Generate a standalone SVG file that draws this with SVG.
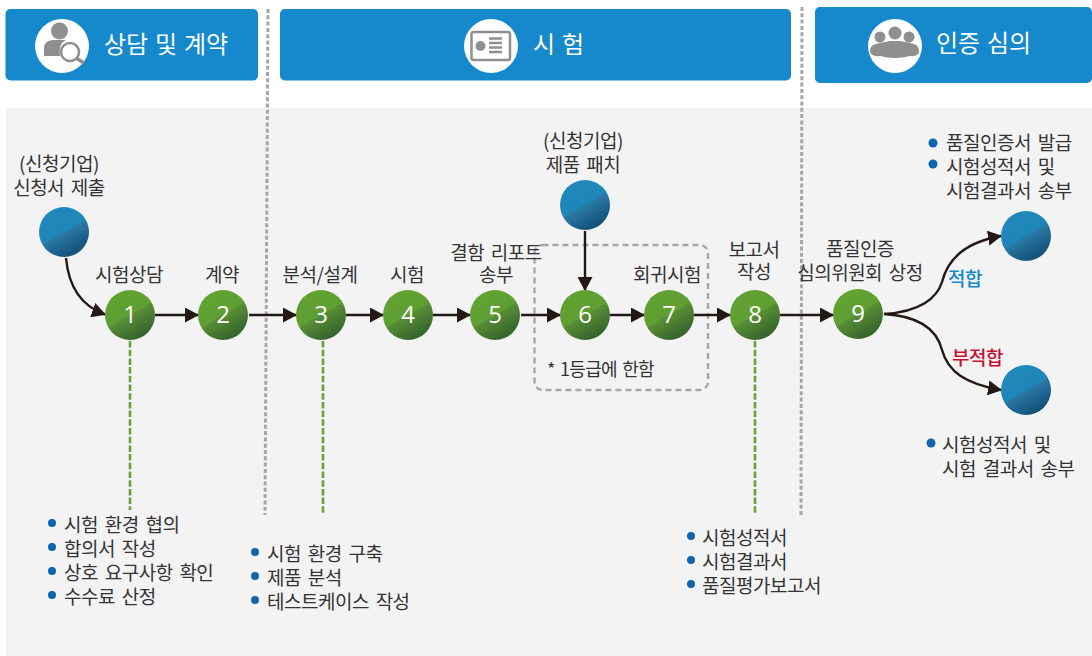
<svg xmlns="http://www.w3.org/2000/svg" width="1092" height="656" viewBox="0 0 1092 656">
<style>
text{font-family:"Noto Sans CJK KR","Noto Sans",sans-serif;fill:#333;font-size:19px;letter-spacing:-.5px;word-spacing:3px}
.m{text-anchor:middle}
.h{fill:#fff;font-size:24px;letter-spacing:0;word-spacing:1.500px}
.n{fill:#fff;font-size:24px;text-anchor:middle;font-family:"Open Sans","Noto Sans",sans-serif;letter-spacing:0}
.hb{fill:#1688cc}
.ic{fill:#8f8f8f}
.c{fill:none;stroke:#231815;stroke-width:2.400}
.a{marker-end:url(#ah)}
.gd{fill:none;stroke:#6aa035;stroke-width:2.600;stroke-dasharray:6.500 2.200}
.gy{fill:none;stroke:#a6a6a6;stroke-width:3;stroke-dasharray:4 2.300}
.b{fill:#0b64ad}
</style>
<defs>
<marker id="ah" markerUnits="userSpaceOnUse" markerWidth="14" markerHeight="15" refX="13" refY="7.500" orient="auto"><path d="M0 0L14 7.500L0 15Z" fill="#231815"/></marker>
<linearGradient id="gg" x1=".25" y1=".067" x2=".75" y2=".933"><stop offset="0" stop-color="#62a232"/><stop offset=".5" stop-color="#5f9e32"/><stop offset=".5" stop-color="#588f35"/><stop offset="1" stop-color="#34622c"/></linearGradient>
<linearGradient id="bg" x1=".25" y1=".067" x2=".75" y2=".933"><stop offset="0" stop-color="#2088bb"/><stop offset=".5" stop-color="#1f86b9"/><stop offset=".5" stop-color="#2a7aa8"/><stop offset="1" stop-color="#124f75"/></linearGradient>
</defs>
<rect x="6" y="108" width="1086" height="548" fill="#f3f3f3"/>
<g id="band1"><rect class="hb" x="5.500" y="9" width="252.500" height="71.500" rx="5"/><circle cx="62" cy="46" r="27" fill="#fff"/><circle class="ic" cx="59.500" cy="31" r="8.500"/><path class="ic" d="M44 56V47Q45 40 54 40H66Q58 44 60 56Z"/><circle cx="70" cy="52" r="9" fill="#fff" stroke="#8f8f8f" stroke-width="2.500"/><path d="M76 58L84 63" stroke="#8f8f8f" stroke-width="3.500" fill="none"/><text class="h" x="104" y="53">상담 및 계약</text></g>
<g id="band2"><rect class="hb" x="280" y="9" width="511" height="71.500" rx="5"/><circle cx="491" cy="46" r="27" fill="#fff"/><rect x="471.500" y="32" width="38.500" height="28" rx="2" fill="none" stroke="#8f8f8f" stroke-width="2.500"/><circle class="ic" cx="480.500" cy="46" r="5"/><path d="M489 38.500h13M489 43h13M489 47.500h13M489 52h13" stroke="#8f8f8f" stroke-width="2.400" fill="none"/><text class="h" x="533" y="53">시 험</text></g>
<g id="band3"><rect class="hb" x="815" y="7" width="277" height="76" rx="5"/><circle cx="895" cy="46" r="27" fill="#fff"/><circle class="ic" cx="880" cy="37" r="5.500"/><circle class="ic" cx="895" cy="33" r="6.500"/><circle class="ic" cx="909" cy="37" r="5.500"/><path class="ic" d="M870 51Q870 44 880 43Q885 42 890 41H900Q905 42 910 43Q919 44 919 51Q919 57 910 56Q895 60 880 56Q870 57 870 51Z"/><text class="h" x="936" y="52">인증 심의</text></g>
<g id="connectors">
<path class="gy" d="M268 9L265 515"/><path class="gy" d="M802 7L801 515"/>
<path class="gd" d="M130 341V510"/><path class="gd" d="M323 341V514"/><path class="gd" d="M755 341V514"/>
<rect x="534.500" y="245" width="173.500" height="145" rx="8" fill="none" stroke="#a6a6a6" stroke-width="2.400" stroke-dasharray="6 4"/>
<path class="c a" d="M66 258Q70 302 105 314.500"/>
<path class="c a" d="M155 315H198"/><path class="c a" d="M249 315H296"/><path class="c a" d="M346 315H383"/><path class="c a" d="M433 315H470"/><path class="c a" d="M521 315H560"/><path class="c a" d="M610 315H644"/><path class="c a" d="M694 315H730"/><path class="c a" d="M780 315H833"/>
<path class="c a" d="M585 231V290"/>
<path class="c a" d="M884 314C920 312 937 298 942 282C948 258 966 242 1001 236"/>
<path class="c a" d="M884 314C920 316 937 330 942 350C948 372 966 384 1001 390"/>
</g>
<g id="n1"><circle cx="130" cy="315" r="25" fill="url(#gg)"/><text class="n" x="130" y="323">1</text><text class="m" x="129" y="282">시험상담</text></g>
<g id="n2"><circle cx="223" cy="315" r="25" fill="url(#gg)"/><text class="n" x="223" y="323">2</text><text class="m" x="222" y="282">계약</text></g>
<g id="n3"><circle cx="321" cy="315" r="25" fill="url(#gg)"/><text class="n" x="321" y="323">3</text><text class="m" x="320" y="282">분석/설계</text></g>
<g id="n4"><circle cx="408" cy="315" r="25" fill="url(#gg)"/><text class="n" x="408" y="323">4</text><text class="m" x="407" y="282">시험</text></g>
<g id="n5"><circle cx="495" cy="315" r="25" fill="url(#gg)"/><text class="n" x="495" y="323">5</text><text class="m" x="496" y="260">결함 리포트</text><text class="m" x="496" y="282">송부</text></g>
<g id="n6"><circle cx="585" cy="315" r="25" fill="url(#gg)"/><text class="n" x="585" y="323">6</text></g>
<g id="n7"><circle cx="669" cy="315" r="25" fill="url(#gg)"/><text class="n" x="669" y="323">7</text><text class="m" x="667" y="282">회귀시험</text></g>
<g id="n8"><circle cx="755" cy="315" r="25" fill="url(#gg)"/><text class="n" x="755" y="323">8</text><text class="m" x="754" y="257">보고서</text><text class="m" x="754" y="279">작성</text></g>
<g id="n9"><circle cx="858" cy="314" r="25" fill="url(#gg)"/><text class="n" x="858" y="322">9</text><text class="m" x="860" y="256">품질인증</text><text class="m" x="860" y="280">심의위원회 상정</text></g>
<g id="s1"><circle cx="64" cy="232" r="25" fill="url(#bg)"/><text class="m" x="59" y="171">(신청기업)</text><text class="m" x="59" y="195">신청서 제출</text></g>
<g id="s2"><circle cx="585" cy="205" r="25" fill="url(#bg)"/><text class="m" x="583" y="148">(신청기업)</text><text class="m" x="583" y="172">제품 패치</text></g>
<g id="r1"><circle cx="1026" cy="236" r="25" fill="url(#bg)"/><text x="946" y="150">품질인증서 발급</text><text x="946" y="174">시험성적서 및</text><text x="946" y="198">시험결과서 송부</text><circle class="b" cx="933" cy="143" r="4.500"/><circle class="b" cx="933" cy="164" r="4.500"/></g>
<g id="r2"><circle cx="1026" cy="390" r="25" fill="url(#bg)"/><text x="942" y="452">시험성적서 및</text><text x="942" y="476">시험 결과서 송부</text><circle class="b" cx="931" cy="443" r="4.500"/></g>
<text x="948" y="286" style="fill:#1688cc;font-weight:500">적합</text>
<text x="952" y="365" style="fill:#c8102e;font-weight:500">부적합</text>
<text x="547" y="376" style="font-size:18px;letter-spacing:-.7px;word-spacing:2px">* 1등급에 한함</text>
<g id="l1"><circle class="b" cx="52" cy="523" r="4"/><circle class="b" cx="52" cy="547" r="4"/><circle class="b" cx="52" cy="571" r="4"/><circle class="b" cx="52" cy="595" r="4"/><text x="64" y="532">시험 환경 협의</text><text x="64" y="556">합의서 작성</text><text x="64" y="580">상호 요구사항 확인</text><text x="64" y="604">수수료 산정</text></g>
<g id="l2"><circle class="b" cx="255" cy="552" r="4"/><circle class="b" cx="255" cy="576" r="4"/><circle class="b" cx="255" cy="600" r="4"/><text x="267" y="561">시험 환경 구축</text><text x="267" y="585">제품 분석</text><text x="267" y="609">테스트케이스 작성</text></g>
<g id="l3"><circle class="b" cx="691" cy="536" r="4"/><circle class="b" cx="691" cy="560" r="4"/><circle class="b" cx="691" cy="584" r="4"/><text x="702" y="545">시험성적서</text><text x="702" y="569">시험결과서</text><text x="702" y="593">품질평가보고서</text></g>
</svg>
